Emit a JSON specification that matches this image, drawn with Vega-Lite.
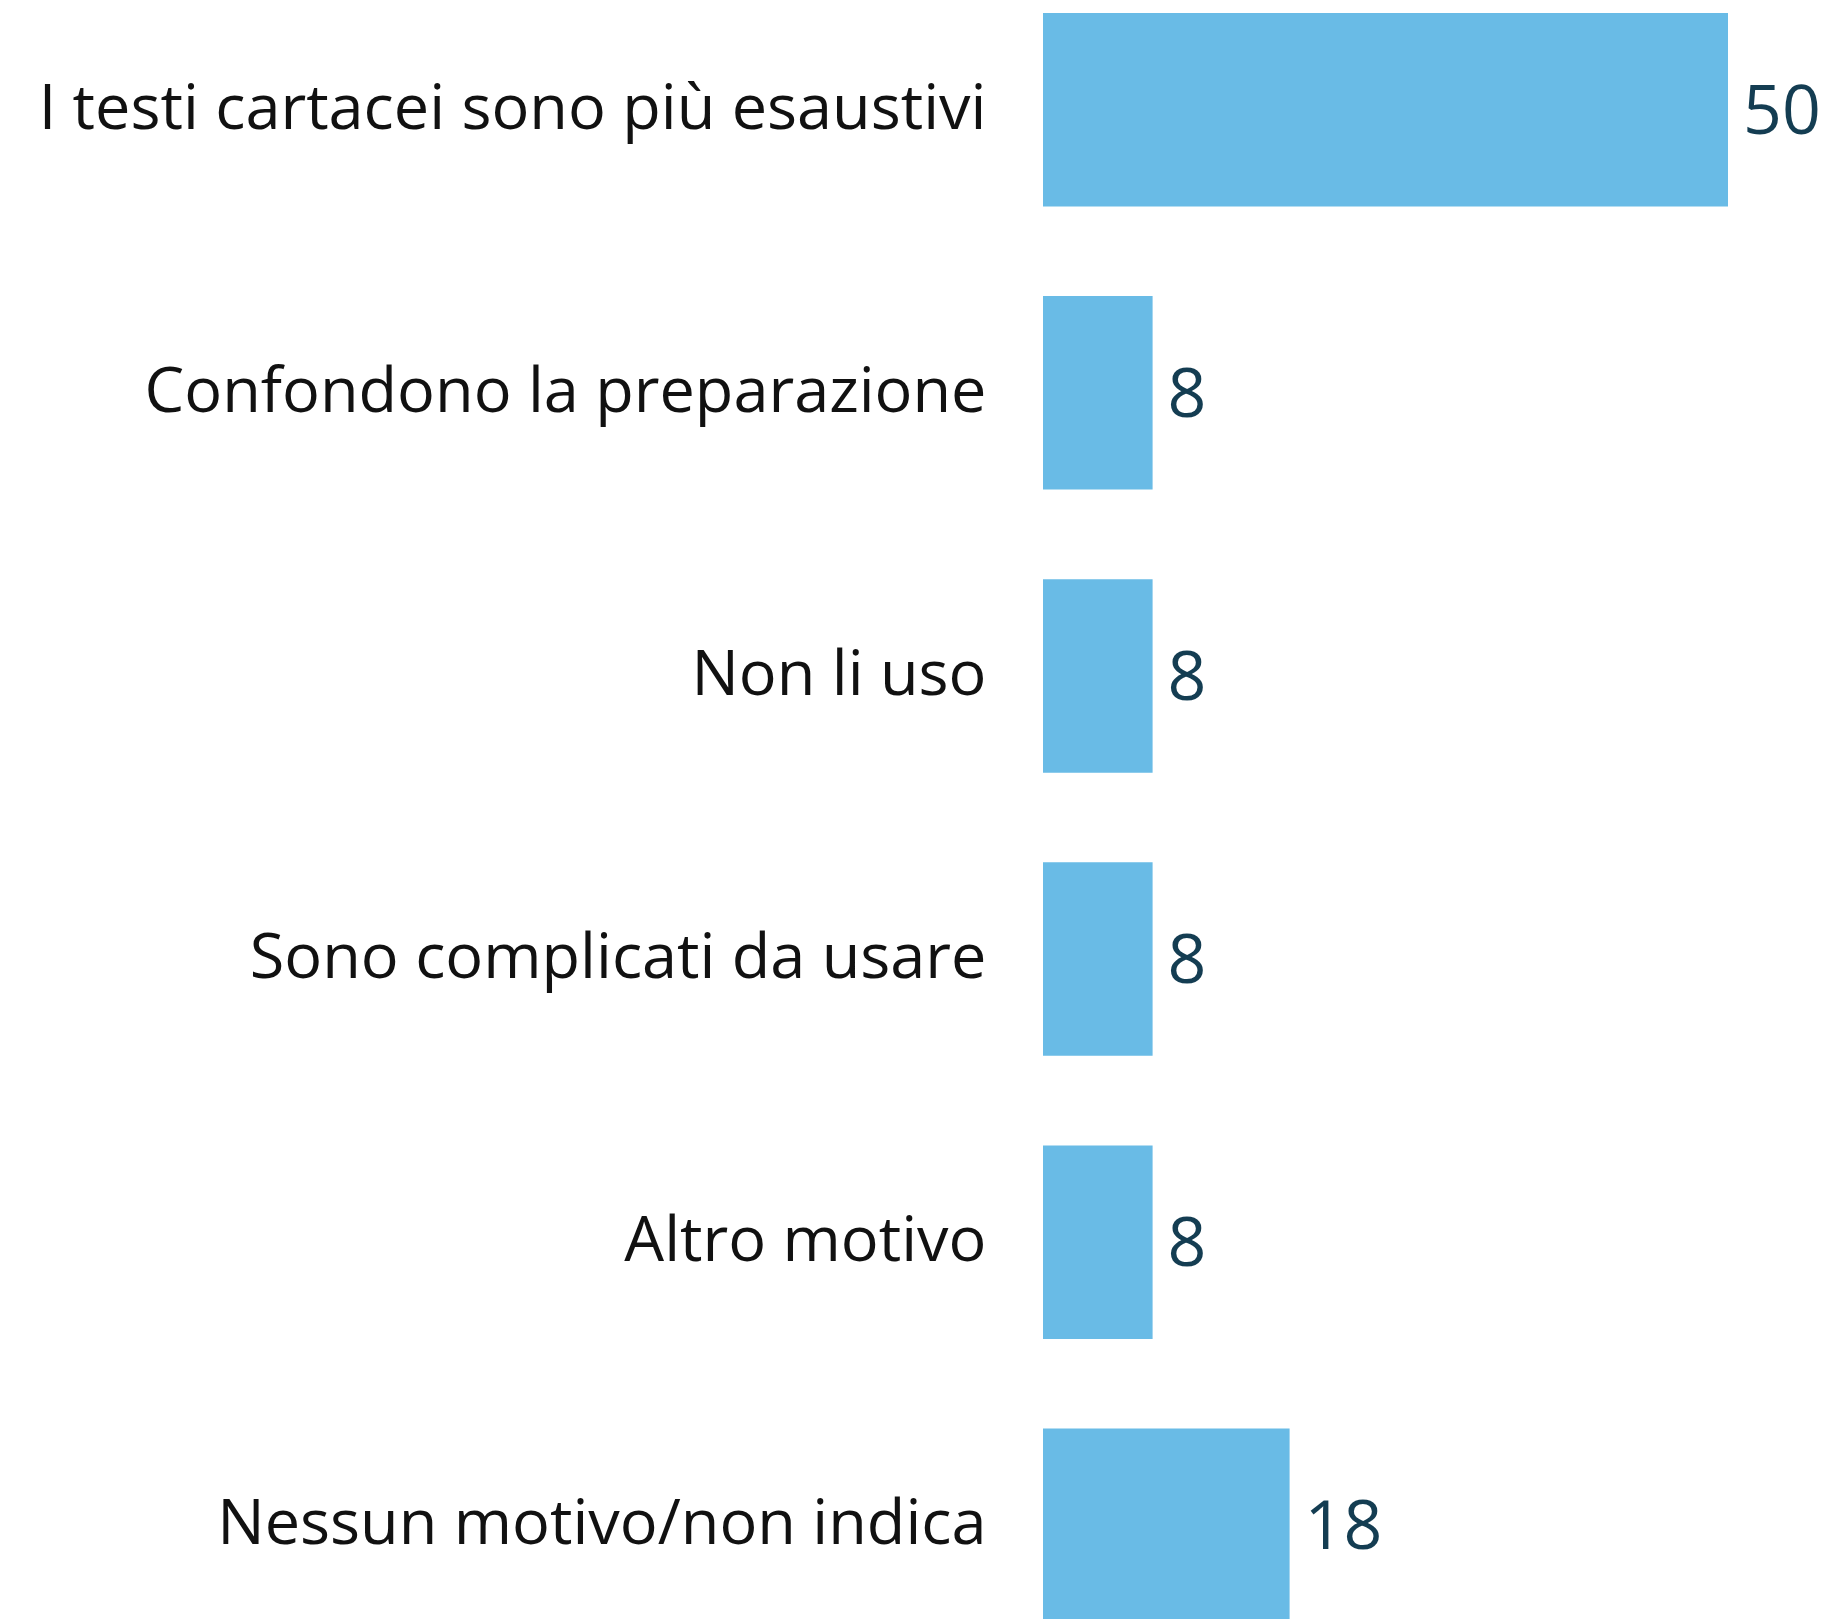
{
  "$schema": "https://vega.github.io/schema/vega-lite/v6.json",
  "autosize": {"type": "none"},
  "padding": {"left": 1043, "top": 13, "right": 111, "bottom": 0},
  "width": 685,
  "height": 1609,
  "background": "#ffffff",
  "config": {"view": {"stroke": null}},
  "data": {"values": [
    {"motivo": "I testi cartacei sono più esaustivi", "valore": 50},
    {"motivo": "Confondono la preparazione", "valore": 8},
    {"motivo": "Non li uso", "valore": 8},
    {"motivo": "Sono complicati da usare", "valore": 8},
    {"motivo": "Altro motivo", "valore": 8},
    {"motivo": "Nessun motivo/non indica", "valore": 18}
  ]},
  "encoding": {
    "y": {"field": "motivo", "type": "nominal", "sort": null,
      "scale": {"paddingInner": 0.3165, "paddingOuter": 0},
      "axis": {"title": null, "domain": false, "ticks": false, "labelPadding": 57,
        "labelFont": "Open Sans", "labelFontSize": 63, "labelColor": "#111111", "labelLimit": 1100}},
    "x": {"field": "valore", "type": "quantitative",
      "scale": {"domain": [0, 50], "nice": false}, "axis": null}
  },
  "layer": [
    {"mark": {"type": "bar", "color": "#69bbe6"}},
    {"mark": {"type": "text", "align": "left", "baseline": "middle", "dx": 15, "dy": 4,
      "font": "Open Sans", "fontSize": 68, "color": "#143d52"},
     "encoding": {"text": {"field": "valore", "type": "quantitative"}}}
  ]
}
